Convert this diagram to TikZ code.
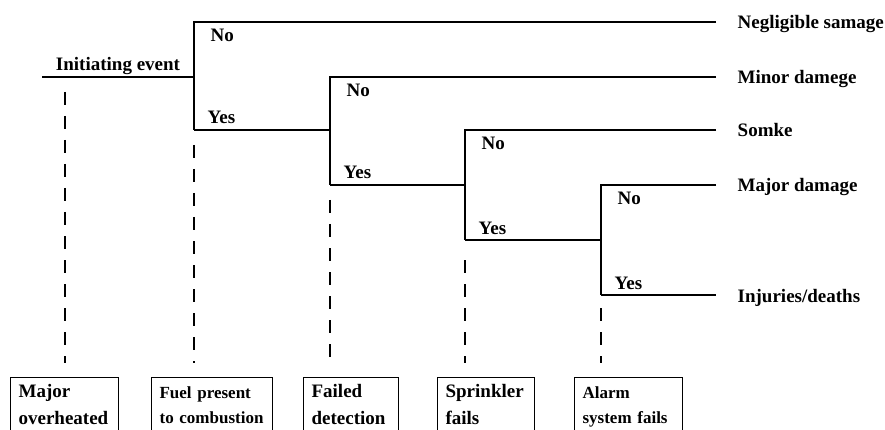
\documentclass[tikz,border=0pt]{standalone}
\usepackage{fontspec}
\setmainfont{Liberation Serif}
\usetikzlibrary{positioning}

\begin{document}
\begin{tikzpicture}[x=1pt,y=-1pt,line width=1.4pt,node distance=21pt]
    \tikzstyle{branch}=[font=\bfseries\fontsize{19}{23}\selectfont,inner sep=0pt,text height=14pt,text depth=0pt]
    \tikzstyle{outcome}=[branch]
    \tikzstyle{guide}=[line width=1.3pt,dash pattern=on 13pt off 11pt]
    \tikzstyle{stage}=[draw,line width=1.2pt,anchor=north west,align=left,inner xsep=8pt,inner ysep=7pt,text height=13pt,text depth=35pt,font=\bfseries\fontsize{19}{27}\selectfont]
    \tikzstyle{small stage}=[stage,text height=14pt,font=\bfseries\fontsize{17}{25}\selectfont]

    \useasboundingbox (0,0) rectangle (885,430);

    % Split points of the tree
    \coordinate (A) at (42,77);
    \foreach \name/\x/\top/\bot in {1/194/22/130,2/330/77/185,3/465/130/240,4/601/185/295}{
        \coordinate (No-\name) at (\x,\top);
        \coordinate (Yes-\name) at (\x,\bot);
        \coordinate (E-\name) at (716,\top);
    }
    \coordinate (E-5) at (716,295);

    % Draw the tree
    \draw (A) -- (A -| No-1);
    \foreach \name in {1,...,4}
        \draw (E-\name) -- (No-\name) -- (Yes-\name);
    \foreach \name/\next in {1/2,2/3,3/4}
        \draw (Yes-\name) -- (Yes-\name -| No-\next);
    \draw (Yes-4) -- (E-5);

    % Label the branches
    \node[branch,anchor=base] (init) at ([shift={(76,-6)}]A) {Initiating event};
    \foreach \name in {1,...,4}{
        \node[branch,anchor=base west] (no-\name) at ([shift={(16,20)}]No-\name) {No};
        \node[branch,anchor=base west] (yes-\name) at ([shift={(13,-6)}]Yes-\name) {Yes};
    }

    % Outcomes
    \foreach \name/\txt in {1/Negligible samage,2/Minor damege,3/Somke,4/Major damage,5/{Injuries/deaths}}
        \node[outcome,right=of E-\name] (O-\name) {\txt};

    % Draw the stage boxes
    \node[stage,text width=92pt] (M-1) at (10,377) {Major\\overheated};
    \node[small stage,text width=105pt] (M-2) at (151,377) {Fuel present\\to combustion};
    \node[stage,text width=79pt] (M-3) at (303,377) {Failed\\detection};
    \node[stage,text width=81pt] (M-4) at (437,377) {Sprinkler\\fails};
    \node[small stage,text width=92pt] (M-5) at (574,377) {Alarm\\system fails};

    % Dashed guides down to the boxes
    \foreach \name/\x/\y in {1/65/92,2/194/145,3/330/200,4/465/260,5/601/308}{
        \coordinate (G-\name) at (\x,\y);
        \draw[guide] (G-\name) -- ([yshift=14pt]G-\name |- M-\name.north);
    }
\end{tikzpicture}
\end{document}
